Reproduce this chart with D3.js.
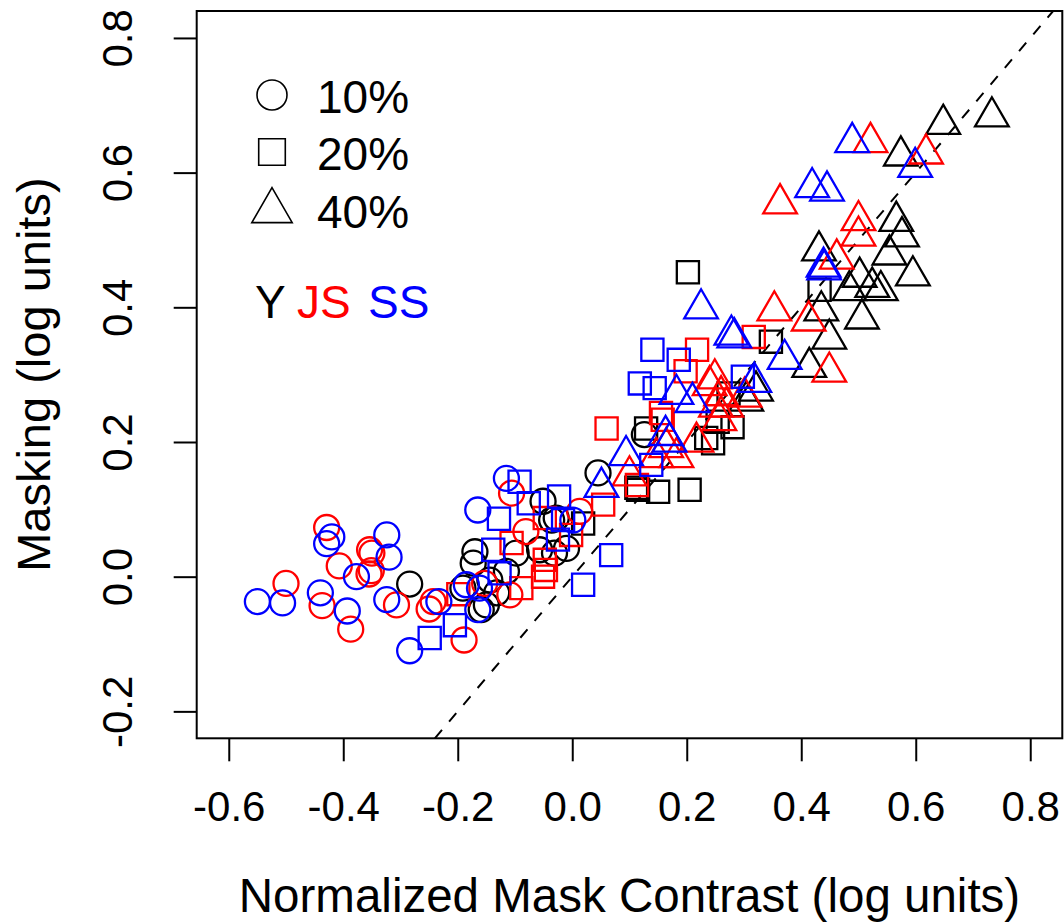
<!DOCTYPE html>
<html>
<head>
<meta charset="utf-8">
<script src="https://cdn.jsdelivr.net/npm/d3@7"></script>
<style>
  body { margin: 0; background: #fff; }
  svg text { font-family: "Liberation Sans", Arial, sans-serif; }
</style>
</head>
<body>
<div id="chart"></div>
<script>
// [normalized mask contrast, masking], log units
const Y10 = [[-0.284,-0.011],[-0.170,0.037],[-0.173,0.020],[-0.191,-0.017],[-0.159,-0.049],[-0.051,0.112],[-0.036,0.084],[-0.028,0.087],[-0.098,0.035],[-0.057,0.040],[-0.010,0.042],[-0.031,0.035],[-0.115,0.008],[-0.150,-0.042],[0.045,0.154],[0.126,0.211],[-0.132,-0.024],[-0.144,-0.005]];
const Y20 = [[0.019,0.079],[0.112,0.132],[0.115,0.129],[0.150,0.126],[0.205,0.129],[0.129,0.220],[0.234,0.206],[0.246,0.198],[0.280,0.222],[0.202,0.452],[0.347,0.349],[0.432,0.426],[0.273,0.272],[0.254,0.230]];
const Y40 = [[0.648,0.672],[0.733,0.683],[0.574,0.625],[0.566,0.528],[0.576,0.505],[0.554,0.478],[0.595,0.447],[0.502,0.445],[0.484,0.425],[0.539,0.425],[0.506,0.383],[0.449,0.353],[0.435,0.395],[0.431,0.484],[0.414,0.311],[0.304,0.261],[0.321,0.276],[0.524,0.430]];

const JS10 = [[-0.429,0.073],[-0.407,0.016],[-0.354,0.040],[-0.350,0.035],[-0.351,0.009],[-0.355,0.004],[-0.500,-0.010],[-0.437,-0.043],[-0.387,-0.078],[-0.307,-0.042],[-0.250,-0.048],[-0.243,-0.037],[-0.189,-0.094],[-0.106,0.124],[-0.081,0.067],[0.013,0.097],[-0.153,-0.010],[-0.109,-0.027]];
const JS20 = [[-0.199,-0.026],[-0.048,0.025],[-0.046,0.010],[-0.051,0.000],[-0.089,-0.017],[-0.048,0.087],[-0.002,0.062],[-0.106,0.050],[0.054,0.107],[0.060,0.220],[0.158,0.233],[0.113,0.136],[0.218,0.337],[0.198,0.305],[0.317,0.356],[0.155,0.243]];
const JS40 = [[0.521,0.645],[0.618,0.628],[0.363,0.554],[0.500,0.529],[0.500,0.506],[0.462,0.472],[0.353,0.395],[0.413,0.380],[0.449,0.304],[0.249,0.294],[0.240,0.284],[0.260,0.269],[0.269,0.252],[0.301,0.267],[0.251,0.252],[0.257,0.232],[0.164,0.192],[0.217,0.200],[0.147,0.177],[0.182,0.177],[0.100,0.150]];

const SS10 = [[-0.420,0.059],[-0.429,0.049],[-0.377,0.000],[-0.324,0.062],[-0.320,0.029],[-0.550,-0.037],[-0.506,-0.039],[-0.440,-0.024],[-0.393,-0.051],[-0.324,-0.034],[-0.233,-0.037],[-0.284,-0.110],[-0.165,0.099],[-0.185,-0.012],[-0.162,-0.017],[-0.115,0.146],[0.001,0.084],[-0.165,-0.049]];
const SS20 = [[-0.249,-0.091],[-0.205,-0.072],[-0.092,0.141],[-0.076,0.109],[-0.128,0.086],[-0.023,0.119],[-0.016,0.084],[-0.025,0.055],[-0.138,0.040],[-0.127,0.005],[0.068,0.032],[0.019,-0.012],[0.140,0.337],[0.186,0.322],[0.118,0.287],[0.144,0.280],[0.138,0.166],[0.298,0.297]];
const SS40 = [[0.489,0.645],[0.599,0.608],[0.419,0.578],[0.445,0.573],[0.439,0.460],[0.440,0.456],[0.225,0.398],[0.278,0.359],[0.283,0.355],[0.371,0.323],[0.182,0.271],[0.210,0.259],[0.318,0.289],[0.163,0.210],[0.094,0.180],[0.051,0.133],[0.170,0.200]];

const subjects = ["Y", "JS", "SS"];
const contrasts = ["10%", "20%", "40%"];
const xTicks = [-0.6, -0.4, -0.2, 0.0, 0.2, 0.4, 0.6, 0.8];
const xTickLabels = ["-0.6", "-0.4", "-0.2", "0.0", "0.2", "0.4", "0.6", "0.8"];
const yTicks = [-0.2, 0.0, 0.2, 0.4, 0.6, 0.8];
const yTickLabels = ["-0.2", "0.0", "0.2", "0.4", "0.6", "0.8"];

const w = 1064, h = 924;
const pLeft = 196.7, pRight = 1062.3, pTop = 11, pBottom = 738.3;

const colors = { Y: "#000000", JS: "#ff0000", SS: "#0000ff" };
const shapes = { "10%": "circle", "20%": "square", "40%": "triangle" };

const series = [
  { subj: "Y", con: "10%", pts: Y10 }, { subj: "Y", con: "20%", pts: Y20 }, { subj: "Y", con: "40%", pts: Y40 },
  { subj: "JS", con: "10%", pts: JS10 }, { subj: "JS", con: "20%", pts: JS20 }, { subj: "JS", con: "40%", pts: JS40 },
  { subj: "SS", con: "10%", pts: SS10 }, { subj: "SS", con: "20%", pts: SS20 }, { subj: "SS", con: "40%", pts: SS40 }
];

const x = d3.scaleLinear().domain([-0.656, 0.856]).range([pLeft, pRight]);
const y = d3.scaleLinear().domain([-0.24, 0.84]).range([pBottom, pTop]);

const svg = d3.select("#chart").append("svg")
  .attr("width", w)
  .attr("height", h);

// R-style pch symbols, s = symbol radius
function symbolPath(shape, s) {
  if (shape === "circle") {
    return `M${-s},0A${s},${s} 0 1,0 ${s},0A${s},${s} 0 1,0 ${-s},0Z`;
  }
  if (shape === "square") {
    const a = s * 0.886;
    return `M${-a},${-a}H${a}V${a}H${-a}Z`;
  }
  const r = s * 1.555, xc = s * 1.347, yc = s * 0.778;
  return `M0,${-r}L${xc},${yc}L${-xc},${yc}Z`;
}

svg.append("clipPath").attr("id", "plotclip")
  .append("rect")
  .attr("x", pLeft).attr("y", pTop)
  .attr("width", pRight - pLeft).attr("height", pBottom - pTop);

// identity line
const lo = Math.max(x.domain()[0], y.domain()[0]);
const hi = Math.min(x.domain()[1], y.domain()[1]);
svg.append("line")
  .attr("clip-path", "url(#plotclip)")
  .attr("x1", x(lo)).attr("y1", y(lo))
  .attr("x2", x(hi)).attr("y2", y(hi))
  .attr("stroke", "#000")
  .attr("stroke-width", 2)
  .attr("stroke-dasharray", "11,11");

// points
series.forEach(s => {
  svg.append("g")
    .selectAll("path")
    .data(s.pts)
    .enter()
    .append("path")
    .attr("transform", d => `translate(${x(d[0])},${y(d[1])})`)
    .attr("d", symbolPath(shapes[s.con], 12.5))
    .attr("fill", "none")
    .attr("stroke", colors[s.subj])
    .attr("stroke-width", 2.3);
});

// frame
svg.append("rect")
  .attr("x", pLeft).attr("y", pTop)
  .attr("width", pRight - pLeft).attr("height", pBottom - pTop)
  .attr("fill", "none")
  .attr("stroke", "#000")
  .attr("stroke-width", 2);

const xAxis = d3.axisBottom(x)
  .tickValues(xTicks)
  .tickSize(23)
  .tickFormat((d, i) => xTickLabels[i]);

const yAxis = d3.axisLeft(y)
  .tickValues(yTicks)
  .tickSize(23)
  .tickFormat((d, i) => yTickLabels[i]);

const gx = svg.append("g")
  .attr("transform", `translate(0, ${pBottom})`)
  .call(xAxis);
gx.select(".domain").remove();
gx.selectAll("line").attr("stroke-width", 2);
gx.selectAll("text")
  .attr("y", 83)
  .attr("dy", 0)
  .attr("fill", "#000")
  .style("font-size", "42px");

const gy = svg.append("g")
  .attr("transform", `translate(${pLeft}, 0)`)
  .call(yAxis);
gy.select(".domain").remove();
gy.selectAll("line").attr("stroke-width", 2);
gy.selectAll("text")
  .attr("transform", "rotate(-90)")
  .attr("x", 0)
  .attr("y", -65)
  .attr("dy", 0)
  .attr("text-anchor", "middle")
  .attr("fill", "#000")
  .style("font-size", "42px");

// axis titles
svg.append("text")
  .attr("x", (pLeft + pRight) / 2)
  .attr("y", 912)
  .attr("text-anchor", "middle")
  .style("font-size", "47.5px")
  .text("Normalized Mask Contrast (log units)");

svg.append("text")
  .attr("transform", `translate(50, ${(pTop + pBottom) / 2}) rotate(-90)`)
  .attr("text-anchor", "middle")
  .style("font-size", "47px")
  .text("Masking (log units)");

// legend: symbols
const legendY = [95, 152, 211];
contrasts.forEach((c, i) => {
  svg.append("path")
    .attr("transform", `translate(272, ${legendY[i]})`)
    .attr("d", symbolPath(shapes[c], 15))
    .attr("fill", "none")
    .attr("stroke", "#000")
    .attr("stroke-width", 1.6);
  svg.append("text")
    .attr("x", 317)
    .attr("y", [113, 170, 228][i])
    .style("font-size", "46px")
    .text(c);
});

// legend: subjects
const subjX = [255, 297, 368];
subjects.forEach((s, i) => {
  svg.append("text")
    .attr("x", subjX[i])
    .attr("y", 318)
    .attr("fill", colors[s])
    .style("font-size", "46px")
    .text(s);
});
</script>
</body>
</html>
